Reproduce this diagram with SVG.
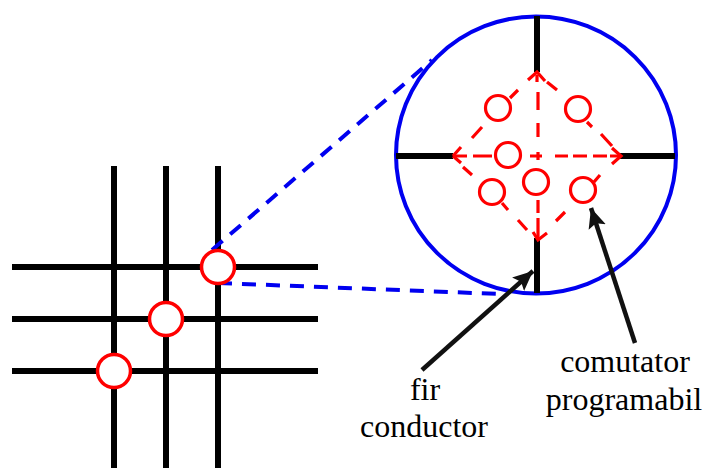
<svg xmlns="http://www.w3.org/2000/svg" width="705" height="468" viewBox="0 0 705 468">
<style>
.w{stroke:#000;stroke-width:6;fill:none}
.b{stroke:#0000f0;stroke-width:4;fill:none}
.r{stroke:#f00;stroke-width:3.2;fill:none}
.s{stroke:#f00;stroke-width:3.2;fill:#fff}
.g{stroke:#f00;stroke-width:3.5;fill:#fff}
.a{stroke:#111;stroke-width:4.5;fill:none;marker-end:url(#h)}
text{font-family:"Liberation Serif","Times New Roman",serif;font-size:32px;fill:#000;text-anchor:middle}
</style>
<defs>
<marker id="h" markerUnits="userSpaceOnUse" markerWidth="24" markerHeight="20" refX="20" refY="10" orient="auto">
<path d="M0 1L20 10L0 19L4 10Z" fill="#111"/>
</marker>
</defs>
<rect width="705" height="468" fill="#fff"/>
<g id="grid">
<path class="w" d="M114 166V468M166 166V468M218 166V468M12 267H318M12 319H318M12 371H318"/>
</g>
<g id="zoom-circle">
<ellipse class="b" cx="536" cy="155" rx="140" ry="138.5"/>
<path class="w" d="M537 16V72M396 156H453M620 156H675M537 238V293"/>
</g>
<g id="connectors">
<path class="b" stroke-dasharray="14 10" d="M212 250L432 60"/>
<path class="b" stroke-dasharray="14 10" d="M218 283L500 294"/>
<path class="r" d="M528 80L537 72L545 81M547 82L557 90M510 98L518 90M472 138L482 127M453 156L461 147M587 122L592 127M601 134L612 146M612 148L621 156L612 164M600 175L594 182M565 212L556 221M547 233L538 240L533 232M463 167L472 175M502 203L508 210M518 220L527 230M453 156L461 163"/>
<path class="r" d="M537 75V82M538 92V110M538 123V137M538 152V160M538 200V213M538 218V238"/>
<path class="r" d="M453 156H467M473 156H492M530 156H542M555 156H568M573 156H587M593 156H607M610 156H621"/>
<path class="a" d="M422 370L533 271"/>
<path class="a" d="M635 343L591 208"/>
</g>
<g id="switch-1"><circle class="g" cx="218" cy="267" r="16.5"/></g>
<g id="switch-2"><circle class="g" cx="166" cy="319" r="16.5"/></g>
<g id="switch-3"><circle class="g" cx="114" cy="371" r="16.5"/></g>
<g id="sw-a"><circle class="s" cx="498" cy="108" r="12.5"/></g>
<g id="sw-b"><circle class="s" cx="578" cy="109" r="12.5"/></g>
<g id="sw-c"><circle class="s" cx="508" cy="155" r="12.5"/></g>
<g id="sw-d"><circle class="s" cx="536" cy="182" r="12.5"/></g>
<g id="sw-e"><circle class="s" cx="492" cy="192" r="12.5"/></g>
<g id="sw-f"><circle class="s" cx="583" cy="190" r="12.5"/></g>
<g id="label-fir">
<text x="425" y="400">fir</text>
<text x="424" y="437">conductor</text>
</g>
<g id="label-comutator">
<text x="625" y="372">comutator</text>
<text x="624" y="410">programabil</text>
</g>
</svg>
